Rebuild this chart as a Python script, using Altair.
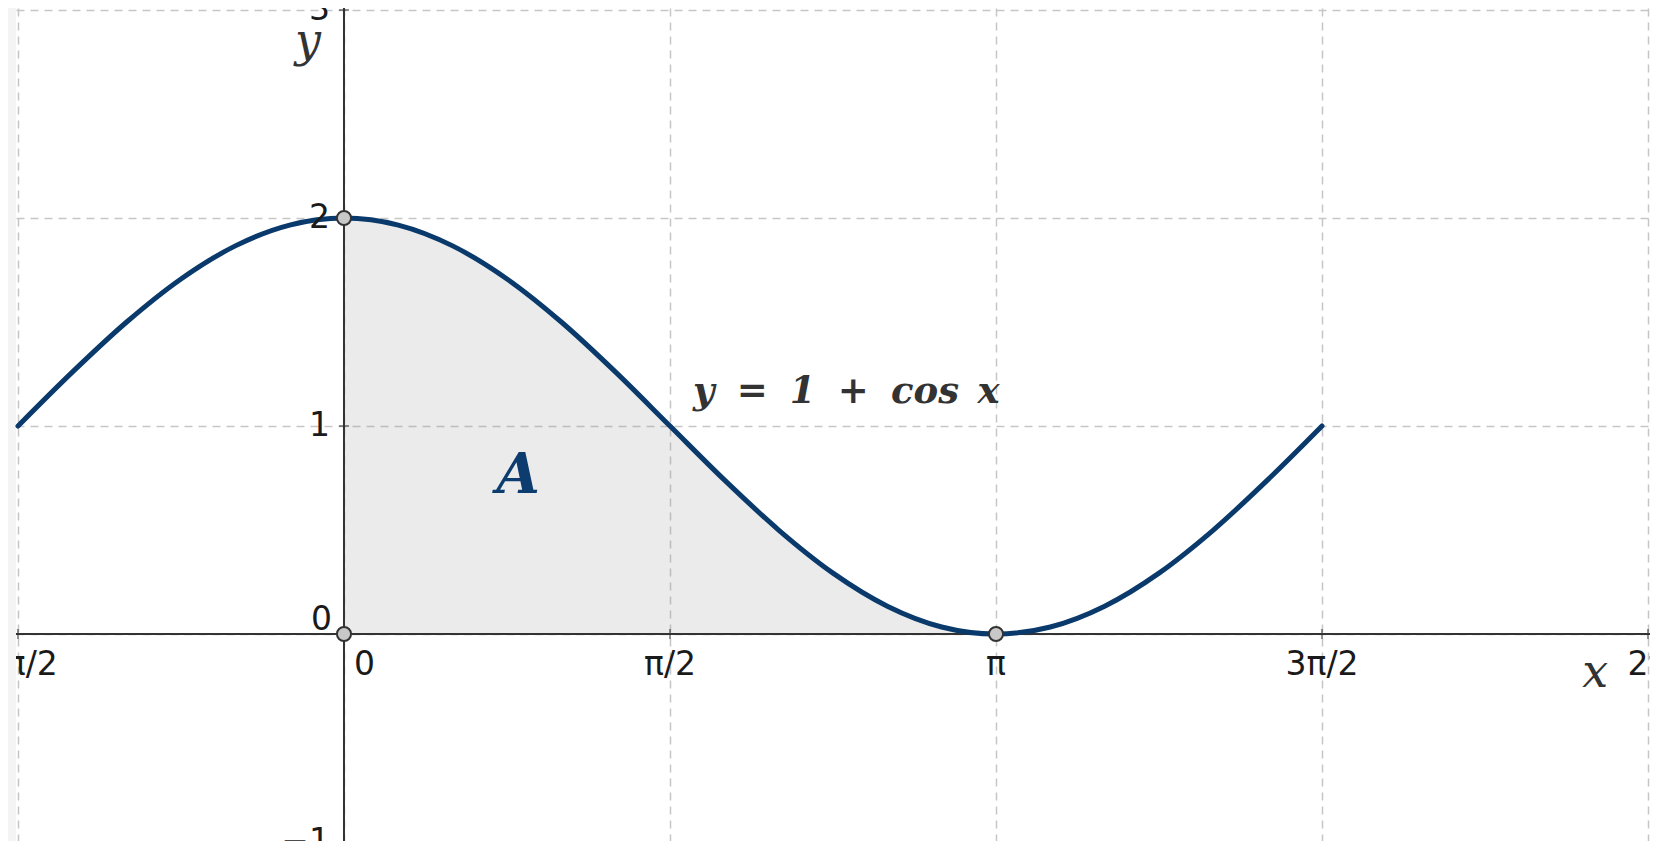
import altair as alt
import pandas as pd

# ---- data ----
curve_x = [-1.5708, -1.3090, -1.0472, -0.7854, -0.5236, -0.2618, 0.0,
           0.2618, 0.5236, 0.7854, 1.0472, 1.3090, 1.5708, 1.8326,
           2.0944, 2.3562, 2.6180, 2.8798, 3.1416, 3.4034, 3.6652,
           3.9270, 4.1888, 4.4506, 4.7124]
curve_y = [1.000, 1.259, 1.500, 1.707, 1.866, 1.966, 2.000,
           1.966, 1.866, 1.707, 1.500, 1.259, 1.000, 0.741,
           0.500, 0.293, 0.134, 0.034, 0.000, 0.034, 0.134,
           0.293, 0.500, 0.741, 1.000]
area_from = 0.0
area_to = 3.1416

grid_x = [-1.5708, 0.0, 1.5708, 3.1416, 4.7124, 6.2832]
x_tick_labels = ["−π/2", "0", "π/2", "π", "3π/2", "2π"]
grid_y = [-1, 0, 1, 2, 3]
y_tick_labels = ["−1", "0", "1", "2", "3"]

point_x = [0.0, 0.0, 3.1416]
point_y = [0.0, 2.0, 0.0]

curve_df = pd.DataFrame({"x": curve_x, "y": curve_y})
area_df = curve_df[(curve_df.x >= area_from) & (curve_df.x <= area_to)]
points_df = pd.DataFrame({"x": point_x, "y": point_y})
xt_df = pd.DataFrame({"x": grid_x, "label": x_tick_labels})
yt_df = pd.DataFrame({"y": grid_y, "label": y_tick_labels})

# ---- scales / axes ----
xscale = alt.Scale(domain=[-1.5804, 6.2928], nice=False, zero=False)
yscale = alt.Scale(domain=[-0.995, 3.0096], nice=False, zero=False)
grid_style = dict(grid=True, gridDash=[8, 6], gridColor="#c6c6c6", gridWidth=1.5,
                  labels=False, ticks=False, domain=False, title=None)
xaxis = alt.Axis(values=grid_x, **grid_style)
yaxis = alt.Axis(values=grid_y, **grid_style)


def X(field=None, **kw):
    if field is None:
        return alt.X(scale=xscale, axis=xaxis, type="quantitative", **kw)
    return alt.X(field, scale=xscale, axis=xaxis, **kw)


def Y(field=None, **kw):
    if field is None:
        return alt.Y(scale=yscale, axis=yaxis, type="quantitative", **kw)
    return alt.Y(field, scale=yscale, axis=yaxis, **kw)


LABEL_FONT = "DejaVu Sans"
MATH_FONT = "DejaVu Serif"
AX = "#333333"

area = alt.Chart(area_df).mark_area(
    color="#999999", opacity=0.2, interpolate="monotone"
).encode(x=X("x:Q"), y=Y("y:Q"), y2=alt.Y2(datum=0))

v_axis = alt.Chart(pd.DataFrame({"x": [0.0]})).mark_rule(
    color=AX, strokeWidth=2).encode(x=X("x:Q"))
h_axis = alt.Chart(pd.DataFrame({"y": [0.0]})).mark_rule(
    color=AX, strokeWidth=2).encode(y=Y("y:Q"))

x_ticks = alt.Chart(xt_df).mark_tick(
    orient="vertical", size=10, thickness=1.5, color=AX
).encode(x=X("x:Q"), y=Y(datum=0))
y_ticks = alt.Chart(yt_df).mark_tick(
    orient="horizontal", size=10, thickness=1.5, color=AX
).encode(y=Y("y:Q"), x=X(datum=0))

curve = alt.Chart(curve_df).mark_line(
    color="#0a3a6b", strokeWidth=5, strokeCap="round", interpolate="monotone"
).encode(x=X("x:Q"), y=Y("y:Q"))

points = alt.Chart(points_df).mark_circle(
    size=200, color="#c8c8c8", stroke=AX, strokeWidth=2, opacity=1
).encode(x=X("x:Q"), y=Y("y:Q"))

x_labels = alt.Chart(xt_df).transform_filter("datum.x != 0").mark_text(
    font=LABEL_FONT, fontSize=33, color="#1a1a1a", align="center",
    baseline="alphabetic", dy=41, clip=True
).encode(x=X("x:Q"), y=Y(datum=0), text="label:N")
x_zero = alt.Chart(xt_df).transform_filter("datum.x == 0").mark_text(
    font=LABEL_FONT, fontSize=33, color="#1a1a1a", align="left",
    baseline="alphabetic", dx=10, dy=41, clip=True
).encode(x=X("x:Q"), y=Y(datum=0), text="label:N")

y_labels = alt.Chart(yt_df).transform_filter("datum.y != 0").mark_text(
    font=LABEL_FONT, fontSize=33, color="#1a1a1a", align="right",
    baseline="middle", dx=-14, clip=True
).encode(y=Y("y:Q"), x=X(datum=0), text="label:N")
y_zero = alt.Chart(yt_df).transform_filter("datum.y == 0").mark_text(
    font=LABEL_FONT, fontSize=33, color="#1a1a1a", align="right",
    baseline="alphabetic", dx=-12, dy=-4, clip=True
).encode(y=Y("y:Q"), x=X(datum=0), text="label:N")

x_title = alt.Chart().mark_text(
    font=MATH_FONT, fontStyle="italic", fontSize=46, color=AX,
    align="center", baseline="alphabetic"
).encode(x=X(datum=6.029), y=Y(datum=-0.255), text=alt.value("x"))
y_title = alt.Chart().mark_text(
    font=MATH_FONT, fontStyle="italic", fontSize=46, color=AX,
    align="center", baseline="alphabetic"
).encode(x=X(datum=-0.173), y=Y(datum=2.78), text=alt.value("y"))

eq_label = alt.Chart().mark_text(
    font=MATH_FONT, fontStyle="italic", fontWeight="bold", fontSize=37, color=AX,
    align="center", baseline="alphabetic"
).encode(x=X(datum=2.42), y=Y(datum=1.11),
         text=alt.value("y\u2002\u200a=\u2002\u200a1\u2002\u200a+\u2002\u200acos\u2002x"))

a_label = alt.Chart().mark_text(
    font=MATH_FONT, fontStyle="italic", fontWeight="bold", fontSize=56,
    color="#0d3d6e", align="center", baseline="alphabetic"
).encode(x=X(datum=0.84), y=Y(datum=0.678), text=alt.value("A"))

chart = alt.layer(
    area, v_axis, h_axis, x_ticks, y_ticks, curve, points,
    x_labels, x_zero, y_labels, y_zero, x_title, y_title, eq_label, a_label
).properties(
    width=1634, height=833,
    background="#f3f4f3",
    padding={"left": 8, "top": 0, "right": 0, "bottom": 0},
    autosize=alt.AutoSizeParams(type="none"),
).configure_view(stroke=None, fill="white")

chart.save("out.html", embed_options={"renderer": "svg", "actions": False})
